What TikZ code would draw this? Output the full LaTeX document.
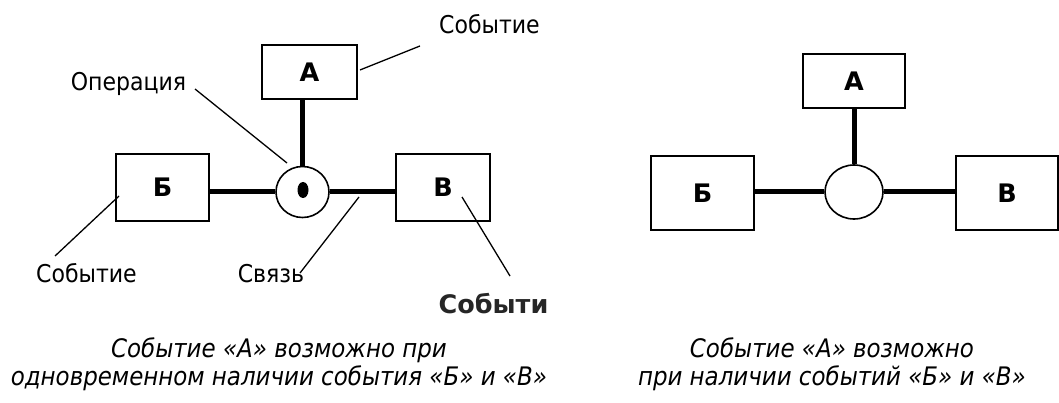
\documentclass[tikz,border=0pt]{standalone}
\usepackage{fontspec}
\setmainfont{DejaVu Sans Condensed}
\newfontfamily\widefont{DejaVu Sans}
\usetikzlibrary{shapes.geometric}
\begin{document}
\begin{tikzpicture}[x=1pt,y=-1pt,
  box/.style={draw, line width=1.8pt, inner sep=0pt, font=\widefont\fontsize{25.5}{25.5}\selectfont\bfseries},
  opnode/.style={draw, ellipse, line width=1.6pt, inner sep=0pt, fill=white},
  link/.style={line width=5pt},
  lead/.style={line width=1.3pt},
  lbl/.style={font=\fontsize{24.5}{24.5}\selectfont, inner sep=0pt},
  blbl/.style={font=\widefont\fontsize{25.5}{25.5}\selectfont\bfseries, text=black!85, inner sep=0pt},
  capt/.style={font=\fontsize{25.5}{28}\selectfont\itshape, align=center, inner sep=0pt}]
\useasboundingbox (0,0) rectangle (1059,403);
% ---------- left diagram ----------
\node[box, minimum width=95pt, minimum height=54pt] (A) at (309.5,72) {А};
\node[box, minimum width=93pt, minimum height=67pt] (B) at (162.5,187.5) {Б};
\node[box, minimum width=94pt, minimum height=67pt] (V) at (443,187.5) {В};
\node[opnode, minimum width=53pt, minimum height=51pt] (op) at (302.5,192) {};
\node[ellipse, fill=black, inner sep=0pt, minimum width=11pt, minimum height=16pt] (dot) at (303,190) {};
\draw[link] (op.north) -- (op.north |- A.south);
\draw[link] (op.west) -- (op.west -| B.east);
\draw[link] (op.east) -- (op.east -| V.west);
% labels
\node[lbl] (lA) at (489.5,24) {Событие};
\node[lbl] (lop) at (128.5,83.5) {Операция};
\node[lbl] (lB) at (86.5,273) {Событие};
\node[lbl] (lsv) at (271,273.5) {Связь};
\node[blbl] (lV) at (493.5,304) {Событи};
\coordinate (a1) at (360,70);   \coordinate (a2) at (420,46);
\coordinate (o1) at (195,89);   \coordinate (o2) at (287,163);
\coordinate (b1) at (119,196);  \coordinate (b2) at (55,256);
\coordinate (s1) at (359,197);  \coordinate (s2) at (300,273);
\coordinate (v1) at (462,197);  \coordinate (v2) at (510,276);
\draw[lead] (a1) -- (a2);
\draw[lead] (o1) -- (o2);
\draw[lead] (b1) -- (b2);
\draw[lead] (s1) -- (s2);
\draw[lead] (v1) -- (v2);
\node[capt] (cap1) at (279,364.5) {Событие «А» возможно при\\одновременном наличии события «Б» и «В»};
% ---------- right diagram ----------
\node[box, minimum width=102pt, minimum height=54pt] (A2) at (854,81) {А};
\node[box, minimum width=103pt, minimum height=74pt] (B2) at (702.5,193) {Б};
\node[box, minimum width=102pt, minimum height=74pt] (V2) at (1007,193) {В};
\node[opnode, minimum width=58pt, minimum height=54pt] (op2) at (854,192) {};
\draw[link] (op2.north) -- (op2.north |- A2.south);
\draw[link] (op2.west) -- (op2.west -| B2.east);
\draw[link] (op2.east) -- (op2.east -| V2.west);
\node[capt] (cap2) at (832,364.5) {Событие «А» возможно\\при наличии событий «Б» и «В»};
\end{tikzpicture}
\end{document}
